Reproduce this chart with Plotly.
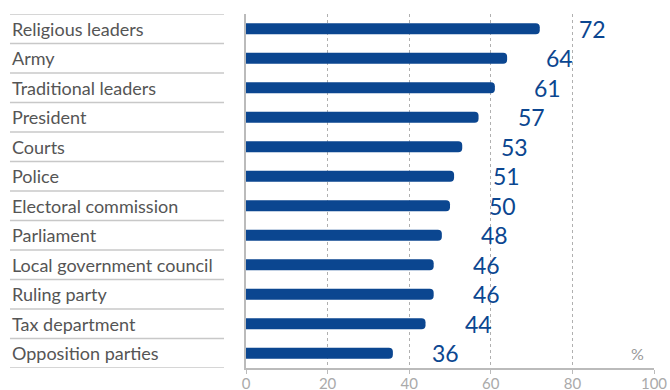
import plotly.graph_objects as go

categories = ["Religious leaders", "Army", "Traditional leaders", "President", "Courts",
              "Police", "Electoral commission", "Parliament", "Local government council",
              "Ruling party", "Tax department", "Opposition parties"]
values = [72, 64, 61, 57, 53, 51, 50, 48, 46, 46, 44, 36]
tick_vals = [0, 20, 40, 60, 80, 100]
tick_text = ["0", "20", "40", "60", "80", "100"]

BLUE = "#0b4690"
GRAY_TXT = "#555555"
LIGHT = "#c8c8c8"
FONT = "Lato"

n = len(categories)
ypos = list(range(n))

fig = go.Figure()
fig.add_trace(go.Bar(
    x=values, y=ypos, orientation="h", width=0.38,
    marker=dict(color=BLUE, cornerradius=4, line=dict(width=0)),
    hoverinfo="skip",
))

annotations = []
shapes = []
for i, (c, v) in enumerate(zip(categories, values)):
    annotations.append(dict(x=-0.579, xref="paper", y=i, yref="y", text=c,
                            showarrow=False, xanchor="left", yanchor="middle",
                            font=dict(family=FONT, size=18, color=GRAY_TXT)))
    annotations.append(dict(x=v, xref="x", y=i, yref="y", text=str(v),
                            showarrow=False, xanchor="left", yanchor="middle",
                            xshift=37, font=dict(family=FONT, size=23, color=BLUE)))
for b in range(n + 1):
    shapes.append(dict(type="line", xref="paper", yref="y",
                       x0=-0.5785, x1=-0.0539, y0=b - 0.5, y1=b - 0.5,
                       line=dict(color=LIGHT, width=1.3)))
annotations.append(dict(x=98, xref="x", y=n - 1, yref="y", text="%", showarrow=False,
                        xanchor="right", yanchor="middle",
                        font=dict(family=FONT, size=16, color="#999999")))

fig.update_layout(
    width=670, height=390,
    margin=dict(l=246, r=16, t=14, b=22),
    paper_bgcolor="white", plot_bgcolor="white",
    showlegend=False,
    xaxis=dict(range=[0, 100], tickvals=tick_vals, ticktext=tick_text,
               showgrid=True, gridcolor="#b0b0b0", griddash="dot", gridwidth=1,
               zeroline=False, showline=True, linecolor="#bbbbbb", linewidth=2,
               ticks="outside", ticklen=4, tickcolor="#bbbbbb", tickwidth=1,
               ticklabelstandoff=-3,
               tickfont=dict(family=FONT, size=15, color="#aaaaaa"), automargin=False),
    yaxis=dict(range=[n - 0.5, -0.5], showticklabels=False, showgrid=False,
               zeroline=False, showline=True, linecolor="#bbbbbb", linewidth=2,
               mirror=False, automargin=False),
    annotations=annotations, shapes=shapes,
)
fig.write_html("out.html", config={"displayModeBar": False},
               post_script="document.body.style.margin='0';document.body.style.padding='0';")
